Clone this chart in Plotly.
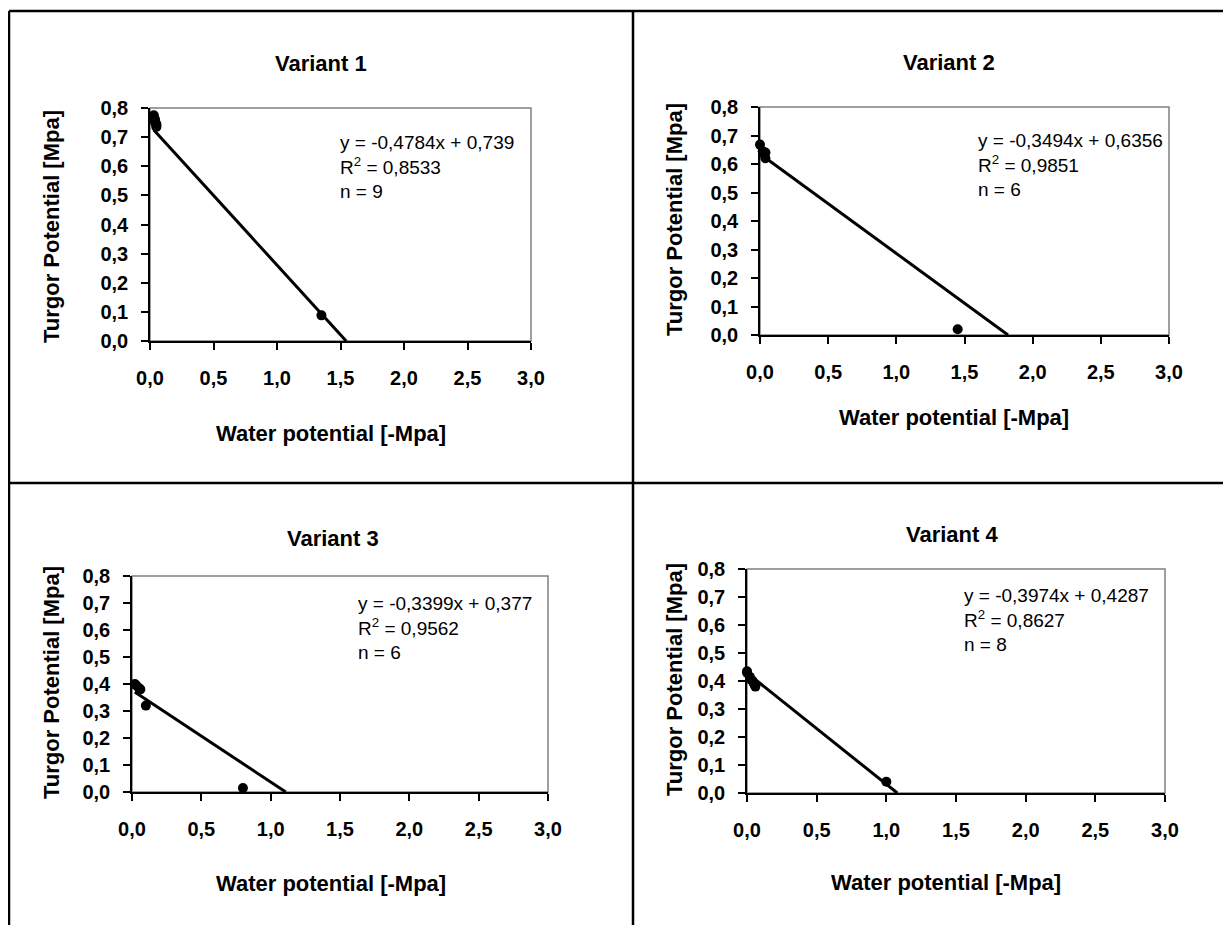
import plotly.graph_objects as go

# the page body keeps an 8 px margin, so the figure is drawn 8 px in
OFF = 8
W, H = 1231 - OFF, 925 - OFF

# ── data ──────────────────────────────────────────────────────────────────
titles = ["Variant 1", "Variant 2", "Variant 3", "Variant 4"]

v1_x = [0.03, 0.03, 0.04, 0.04, 0.04, 0.05, 0.05, 0.05, 1.35]
v1_y = [0.775, 0.77, 0.76, 0.755, 0.75, 0.745, 0.74, 0.735, 0.088]
v2_x = [0.0, 0.02, 0.03, 0.04, 0.04, 1.45]
v2_y = [0.668, 0.645, 0.635, 0.64, 0.62, 0.02]
v3_x = [0.02, 0.03, 0.05, 0.06, 0.1, 0.8]
v3_y = [0.40, 0.395, 0.385, 0.38, 0.32, 0.015]
v4_x = [0.0, 0.0, 0.02, 0.03, 0.04, 0.05, 0.06, 1.0]
v4_y = [0.435, 0.43, 0.415, 0.405, 0.40, 0.39, 0.38, 0.04]

slopes = [-0.4784, -0.3494, -0.3399, -0.3974]
intercepts = [0.739, 0.6356, 0.377, 0.4287]
eq_text = ["y = -0,4784x + 0,739", "y = -0,3494x + 0,6356",
           "y = -0,3399x + 0,377", "y = -0,3974x + 0,4287"]
r2_text = ["0,8533", "0,9851", "0,9562", "0,8627"]
n_text = ["9", "6", "6", "8"]

x_ticks = [0.0, 0.5, 1.0, 1.5, 2.0, 2.5, 3.0]
y_ticks = [0.0, 0.1, 0.2, 0.3, 0.4, 0.5, 0.6, 0.7, 0.8]

series = [(v1_x, v1_y), (v2_x, v2_y), (v3_x, v3_y), (v4_x, v4_y)]

# ── layout in window pixels (left, right, top, bottom of plot area) ──────
boxes = [(150, 531, 108, 341), (760, 1169, 107, 335),
         (132, 548, 576, 792), (747, 1165, 569, 793)]
title_pos = [(321, 64), (949, 62), (333, 538), (952, 534)]
xtitle_pos = [(331, 433), (954, 417), (331, 883), (946, 882)]
ytitle_pos = [(51, 227), (674, 220), (51, 683), (674, 680)]
note_pos = [(338, 142), (976, 140), (356, 603), (962, 595)]

FONT = "Liberation Sans, Arial, sans-serif"


def px(x):
    return (x - OFF) / W


def py(y):
    return 1 - (y - OFF) / H


fig = go.Figure()
annotations = []
shapes = []


def label(x, y, text, size, **kw):
    annotations.append(dict(x=px(x), y=py(y), xref="paper", yref="paper",
                            xanchor="center", yanchor="middle", text=text,
                            showarrow=False,
                            font=dict(family=FONT, size=size, color="black"),
                            **kw))


for i, ((xs, ys), (l, r, t, b)) in enumerate(zip(series, boxes)):
    k = "" if i == 0 else str(i + 1)
    xa, ya = "x" + k, "y" + k

    fig.add_trace(go.Scatter(
        x=xs, y=ys, mode="markers", xaxis=xa, yaxis=ya,
        marker=dict(color="black", size=10), showlegend=False,
        cliponaxis=False,
    ))
    # trendline from the smallest x down to where it meets the x axis
    x0 = min(xs)
    x1 = -intercepts[i] / slopes[i]
    fig.add_trace(go.Scatter(
        x=[x0, x1], y=[slopes[i] * x0 + intercepts[i], 0.0],
        mode="lines", xaxis=xa, yaxis=ya,
        line=dict(color="black", width=3), showlegend=False,
    ))

    axis_common = dict(
        showgrid=False, zeroline=False, showline=True, linecolor="black",
        linewidth=1.5, ticks="outside", ticklen=7, tickwidth=1.5,
        tickcolor="black", tickformat=".1f", automargin=False,
        tickfont=dict(family=FONT, size=20, color="black", weight="bold"),
    )
    fig.update_layout({
        "xaxis" + k: dict(axis_common, domain=[px(l), px(r)], range=[0, 3],
                          tickvals=x_ticks, anchor=ya, ticklabelstandoff=11),
        "yaxis" + k: dict(axis_common, domain=[py(b), py(t)], range=[0, 0.8],
                          tickvals=y_ticks, anchor=xa, ticklabelstandoff=9),
    })

    # gray top/right border of the plot area
    shapes.append(dict(type="rect", xref=xa + " domain", yref=ya + " domain",
                       x0=0, x1=1, y0=0, y1=1, layer="below",
                       line=dict(color="#808080", width=1.5)))

    label(*title_pos[i], "<b>" + titles[i] + "</b>", 22)
    label(*xtitle_pos[i], "<b>Water potential [-Mpa]</b>", 22)
    label(*ytitle_pos[i], "<b>Turgor Potential [Mpa]</b>", 22, textangle=-90)

    tx, ty = note_pos[i]
    annotations.append(dict(
        x=px(tx), y=py(ty - 12), xref="paper", yref="paper",
        xanchor="left", yanchor="top", align="left", showarrow=False,
        text=eq_text[i] + "<br>R<sup>2</sup> = " + r2_text[i] + "<br>n = " + n_text[i],
        font=dict(family=FONT, size=19, color="black"),
    ))

# table frame around the four charts
frame = [((9, 11), (1231, 11)), ((9, 11), (9, 925)),
         ((633, 11), (633, 925)), ((9, 483), (1231, 483))]
for (ax, ay), (bx, by) in frame:
    shapes.append(dict(type="line", xref="paper", yref="paper",
                       x0=px(ax), y0=py(ay), x1=px(bx), y1=py(by),
                       line=dict(color="black", width=2.5)))

fig.update_layout(
    width=W, height=H, margin=dict(l=0, r=0, t=0, b=0),
    paper_bgcolor="white", plot_bgcolor="white",
    separators=",.", annotations=annotations, shapes=shapes,
    font=dict(family=FONT, color="black"),
)

fig.write_html("out.html")
